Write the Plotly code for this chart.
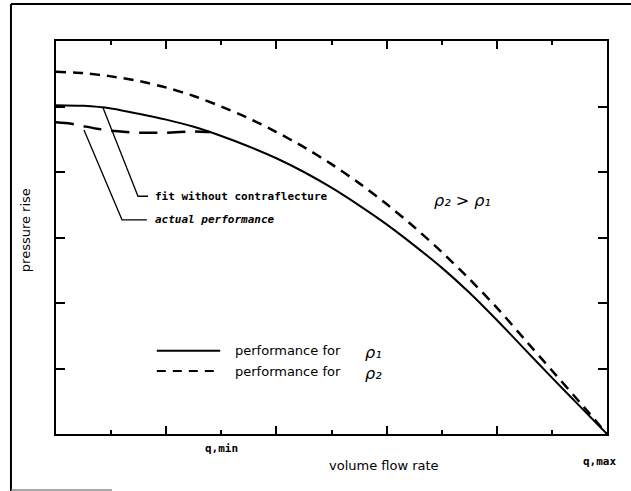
import plotly.graph_objects as go

# ---- data (axis units: x 0..10, y 0..6) ----
x_grid = [0, 0.5, 1, 1.5, 2, 2.5, 3, 3.5, 4, 4.5, 5, 5.5, 6, 6.5, 7, 7.5, 8, 8.5, 9, 9.5, 10]
rho1_perf = [5.02, 5.01, 4.97, 4.89, 4.80, 4.69, 4.55, 4.39, 4.21, 4.00, 3.76,
             3.49, 3.20, 2.88, 2.54, 2.16, 1.74, 1.30, 0.86, 0.43, 0.0]
rho2_perf = [5.53, 5.51, 5.46, 5.39, 5.29, 5.16, 5.00, 4.82, 4.61, 4.38, 4.12,
             3.83, 3.51, 3.16, 2.78, 2.37, 1.93, 1.45, 0.97, 0.49, 0.0]
actual_x = [0, 0.25, 0.5, 0.75, 1.0, 1.5, 2.0, 2.5, 2.8]
actual_y = [4.76, 4.74, 4.70, 4.66, 4.63, 4.60, 4.60, 4.62, 4.61]

legend_names = ["performance for", "performance for"]
legend_rho = ["ρ₁", "ρ₂"]
x_tick_labels = {"q,min": 3, "q,max": 9.87}
leader_fit_x = [0.853, 1.488, 1.67]
leader_fit_y = [4.98, 3.63, 3.63]
leader_act_x = [0.508, 1.198, 1.65]
leader_act_y = [4.64, 3.27, 3.27]
legend_sample_x = [1.83, 2.98]
legend_sample_y = [1.27, 0.96]

fig = go.Figure()
fig.add_trace(go.Scatter(x=x_grid, y=rho1_perf, mode="lines",
                         line=dict(color="black", width=2, shape="spline", smoothing=0.6),
                         name="rho1"))
fig.add_trace(go.Scatter(x=x_grid, y=rho2_perf, mode="lines",
                         line=dict(color="black", width=2.5, dash="10px,7px",
                                   shape="spline", smoothing=0.6), name="rho2"))
fig.add_trace(go.Scatter(x=actual_x, y=actual_y, mode="lines",
                         line=dict(color="black", width=2.5, dash="18px,10px",
                                   shape="spline", smoothing=0.5), name="actual"))
# leader lines
fig.add_trace(go.Scatter(x=leader_fit_x, y=leader_fit_y, mode="lines",
                         line=dict(color="black", width=1.3)))
fig.add_trace(go.Scatter(x=leader_act_x, y=leader_act_y, mode="lines",
                         line=dict(color="black", width=1.3)))
# legend samples
fig.add_trace(go.Scatter(x=legend_sample_x, y=[legend_sample_y[0]] * 2, mode="lines",
                         line=dict(color="black", width=2)))
fig.add_trace(go.Scatter(x=legend_sample_x, y=[legend_sample_y[1]] * 2, mode="lines",
                         line=dict(color="black", width=2, dash="9px,7px")))

mono = "DejaVu Sans Mono"
sans = "DejaVu Sans"
ann = []
ann.append(dict(x=1.76, y=leader_fit_y[-1], text="fit without contraflecture",
                xanchor="left", yanchor="middle", showarrow=False,
                font=dict(family=mono, size=11, color="black", weight="bold")))
ann.append(dict(x=1.76, y=leader_act_y[-1], text="actual performance",
                xanchor="left", yanchor="middle", showarrow=False,
                font=dict(family=mono, size=11, color="black", weight="bold", style="italic")))
ann.append(dict(x=7.37, y=3.57, text="ρ₂ > ρ₁",
                xanchor="center", yanchor="middle", showarrow=False,
                font=dict(family=sans, size=16, color="black", style="italic")))
for name, r, yy in zip(legend_names, legend_rho, legend_sample_y):
    ann.append(dict(x=3.21, y=yy, text=name, xanchor="left", yanchor="middle",
                    showarrow=False, font=dict(family=sans, size=13, color="black")))
    ann.append(dict(x=5.58, y=yy - 0.03, text=r, xanchor="left",
                    yanchor="middle", showarrow=False,
                    font=dict(family=sans, size=16, color="black", style="italic")))
ann.append(dict(x=x_tick_labels["q,min"], y=-0.038, yref="paper", text="q,min",
                xanchor="center", yanchor="middle", showarrow=False,
                font=dict(family=mono, size=11, color="black", weight="bold")))
ann.append(dict(x=x_tick_labels["q,max"], y=-0.069, yref="paper", text="q,max",
                xanchor="center", yanchor="middle", showarrow=False,
                font=dict(family=mono, size=11, color="black", weight="bold")))
ann.append(dict(x=5.95, y=-0.079, yref="paper", text="volume flow rate",
                xanchor="center", yanchor="middle", showarrow=False,
                font=dict(family=sans, size=13, color="black")))
ann.append(dict(x=-0.056, xref="paper", y=0.519, yref="paper", text="pressure rise",
                textangle=-90, xanchor="center", yanchor="middle", showarrow=False,
                font=dict(family=sans, size=13, color="black")))

shapes = [
    dict(type="line", xref="paper", yref="paper", x0=-0.0817, x1=1.05, y0=1.094, y1=1.094,
         line=dict(color="black", width=2)),
    dict(type="line", xref="paper", yref="paper", x0=-0.0817, x1=-0.0817, y0=1.094, y1=-0.15,
         line=dict(color="black", width=2)),
    dict(type="line", xref="paper", yref="paper", x0=-0.0817, x1=0.1016, y0=-0.1425, y1=-0.1425,
         line=dict(color="#888888", width=1.5)),
]

fig.update_layout(
    width=631, height=491,
    margin=dict(l=56, r=24, t=41, b=57),
    paper_bgcolor="white", plot_bgcolor="white",
    showlegend=False,
    annotations=ann, shapes=shapes,
    xaxis=dict(range=[0, 10], showgrid=False, zeroline=False, showline=True,
               linecolor="black", linewidth=2, mirror="allticks",
               ticks="inside", tickmode="linear", tick0=0, dtick=2, ticklen=8,
               tickwidth=1.5, tickcolor="black", showticklabels=False,
               minor=dict(ticks="inside", dtick=1, ticklen=4, tickwidth=1.5,
                          tickcolor="black", showgrid=False)),
    yaxis=dict(range=[0, 6], showgrid=False, zeroline=False, showline=True,
               linecolor="black", linewidth=2, mirror="allticks",
               ticks="inside", tickmode="linear", tick0=0, dtick=1, ticklen=9,
               tickwidth=1.5, tickcolor="black", showticklabels=False),
)

fig.write_html("out.html", config={"displayModeBar": False},
               post_script="document.body.style.margin='0px';document.body.style.overflow='hidden';")
